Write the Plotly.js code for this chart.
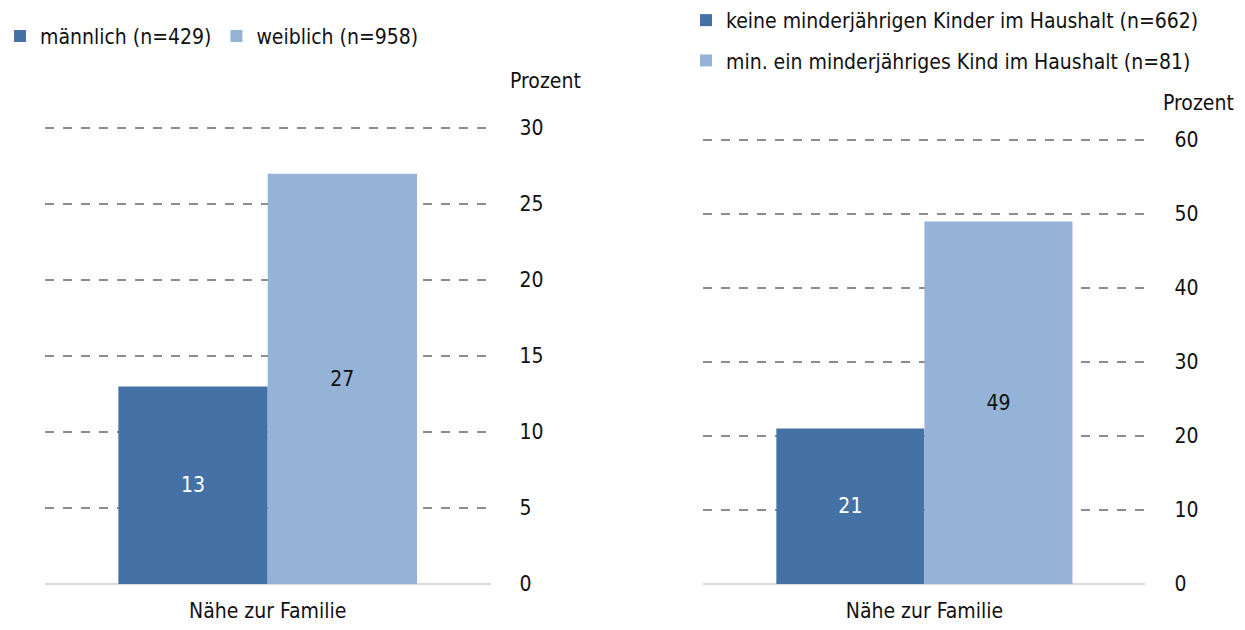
<!DOCTYPE html>
<html>
<head>
<meta charset="utf-8">
<script src="https://cdn.plot.ly/plotly-3.0.1.min.js"></script>
<style>
  html, body { margin: 0; padding: 0; background: #fff; }
  #chart { width: 1245px; height: 630px; }
  #chart text { font-stretch: condensed !important; }
</style>
</head>
<body>
<div id="chart"></div>
<script>
// category shown under both charts
let categories = ["Nähe zur Familie"];

// left chart: by gender
let genderNames = ["männlich (n=429)", "weiblich (n=958)"];
let genderMale = [13];
let genderFemale = [27];

// right chart: by children in household
let kidsNames = ["keine minderjährigen Kinder im Haushalt (n=662)",
                 "min. ein minderjähriges Kind im Haushalt (n=81)"];
let kidsNone = [21];
let kidsSome = [49];

let darkBlue = "#4472a6";
let lightBlue = "#95b3d7";
let fontName = "DejaVu Sans Condensed, DejaVu Sans, sans-serif";

function barTrace(values, name, color, textColor, xa, ya, legend, group) {
    return {
        x: categories,
        y: values,
        type: "bar",
        name: name,
        marker: {color: color},
        text: values.map(String),
        textposition: "inside",
        insidetextanchor: "middle",
        textfont: {color: textColor, size: 21, family: fontName},
        xaxis: xa,
        yaxis: ya,
        legend: legend,
        legendgroup: group,
        hoverinfo: "none"
    };
}

let data = [
    barTrace(genderMale, genderNames[0], darkBlue, "#ffffff", "x", "y", "legend", "a"),
    barTrace(genderFemale, genderNames[1], lightBlue, "#111111", "x", "y", "legend", "b"),
    barTrace(kidsNone, kidsNames[0], darkBlue, "#ffffff", "x2", "y2", "legend2", "c"),
    barTrace(kidsSome, kidsNames[1], lightBlue, "#111111", "x2", "y2", "legend2", "d")
];

// shared axis settings
function yAxis(range, dtick, domain, anchor) {
    return {
        range: range, dtick: dtick, domain: domain, anchor: anchor,
        side: "right",
        showgrid: true, gridcolor: "#8c8c8c", griddash: "dash", gridwidth: 1.5,
        zeroline: true, zerolinecolor: "#d9d9d9", zerolinewidth: 2,
        showline: false, ticks: "", ticklabelstandoff: 28,
        tickfont: {size: 21, color: "#111111", family: fontName},
        fixedrange: true
    };
}
function xAxis(domain, anchor) {
    return {
        domain: domain, anchor: anchor,
        showline: false, ticks: "", showgrid: false, ticklabelstandoff: 12,
        tickfont: {size: 21, color: "#111111", family: fontName},
        fixedrange: true
    };
}

var layout = {
    width: 1245,
    height: 630,
    margin: {l: 0, r: 0, t: 0, b: 0},
    paper_bgcolor: "#ffffff",
    plot_bgcolor: "#ffffff",
    font: {family: fontName, size: 21, color: "#111111"},
    barmode: "group",
    bargap: 0.33,
    bargroupgap: 0,
    xaxis: xAxis([0.036, 0.394], "y"),
    yaxis: yAxis([0, 30.2], 5, [0.073, 0.8016], "x"),
    xaxis2: xAxis([0.565, 0.920], "y2"),
    yaxis2: yAxis([0, 60.4], 10, [0.073, 0.7825], "x2"),
    legend: {
        orientation: "h", x: 0, y: 0.975, xanchor: "left", yanchor: "top",
        font: {size: 21, family: fontName, color: "#111111"},
        itemwidth: 30, traceorder: "normal"
    },
    legend2: {
        orientation: "v", x: 0.551, y: 1.0, xanchor: "left", yanchor: "top",
        font: {size: 21, family: fontName, color: "#111111"},
        traceorder: "grouped", tracegroupgap: 10
    },
    annotations: [
        {text: "Prozent", xref: "paper", yref: "paper", x: 545 / 1245, y: 1 - 81 / 630,
         xanchor: "center", yanchor: "middle", showarrow: false, font: {size: 21}},
        {text: "Prozent", xref: "paper", yref: "paper", x: 1198 / 1245, y: 1 - 103 / 630,
         xanchor: "center", yanchor: "middle", showarrow: false, font: {size: 21}}
    ],
    showlegend: true
};

Plotly.newPlot("chart", data, layout, {displayModeBar: false, staticPlot: true});
</script>
</body>
</html>
